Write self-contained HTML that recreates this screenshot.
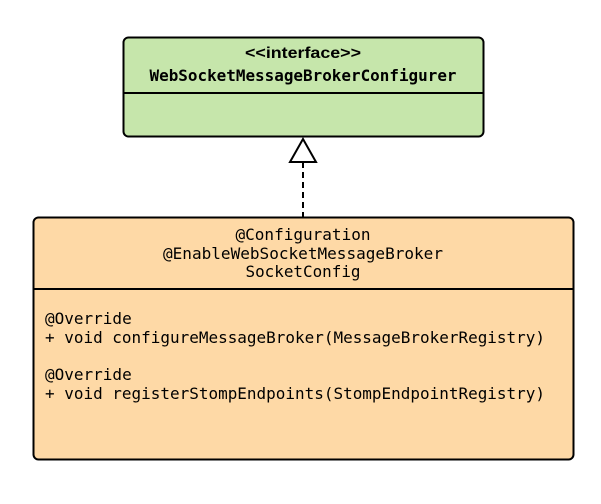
<!DOCTYPE html>
<html><head><meta charset="utf-8"><style>
html,body{margin:0;padding:0;background:#fff;width:601px;height:504px;overflow:hidden}
svg{display:block}
.m{font-family:"DejaVu Sans Mono","Liberation Mono",monospace;font-size:16px;fill:#000}
</style></head><body>
<svg width="601" height="504" viewBox="0 0 601 504">
<rect x="123.5" y="37.5" width="360" height="99" rx="5" fill="#c6e6ab" stroke="#000" stroke-width="2"/>
<line x1="123" y1="93" x2="483" y2="93" stroke="#000" stroke-width="2"/>
<text x="303" y="58" text-anchor="middle" font-family="Liberation Sans,sans-serif" font-weight="bold" font-size="16" textLength="116" lengthAdjust="spacingAndGlyphs">&lt;&lt;interface&gt;&gt;</text>
<text x="303" y="81" text-anchor="middle" class="m" font-weight="bold" textLength="307" lengthAdjust="spacingAndGlyphs">WebSocketMessageBrokerConfigurer</text>
<line x1="303" y1="162" x2="303" y2="217" stroke="#000" stroke-width="2" stroke-dasharray="6,4"/>
<polygon points="303,139 290,162 316,162" fill="#fff" stroke="#000" stroke-width="2"/>
<rect x="33.5" y="217.5" width="540" height="242" rx="5" fill="#fed9a6" stroke="#000" stroke-width="2"/>
<line x1="33" y1="289" x2="573" y2="289" stroke="#000" stroke-width="2"/>
<text x="303" y="240" text-anchor="middle" class="m" textLength="135" lengthAdjust="spacingAndGlyphs">@Configuration</text>
<text x="303" y="259" text-anchor="middle" class="m" textLength="280" lengthAdjust="spacingAndGlyphs">@EnableWebSocketMessageBroker</text>
<text x="303" y="277" text-anchor="middle" class="m" textLength="115" lengthAdjust="spacingAndGlyphs">SocketConfig</text>
<text x="45" y="324" class="m">@Override</text>
<text x="45" y="343" class="m" textLength="500" lengthAdjust="spacingAndGlyphs">+ void configureMessageBroker(MessageBrokerRegistry)</text>
<text x="45" y="380" class="m">@Override</text>
<text x="45" y="399" class="m" textLength="500" lengthAdjust="spacingAndGlyphs">+ void registerStompEndpoints(StompEndpointRegistry)</text>
</svg>
</body></html>
